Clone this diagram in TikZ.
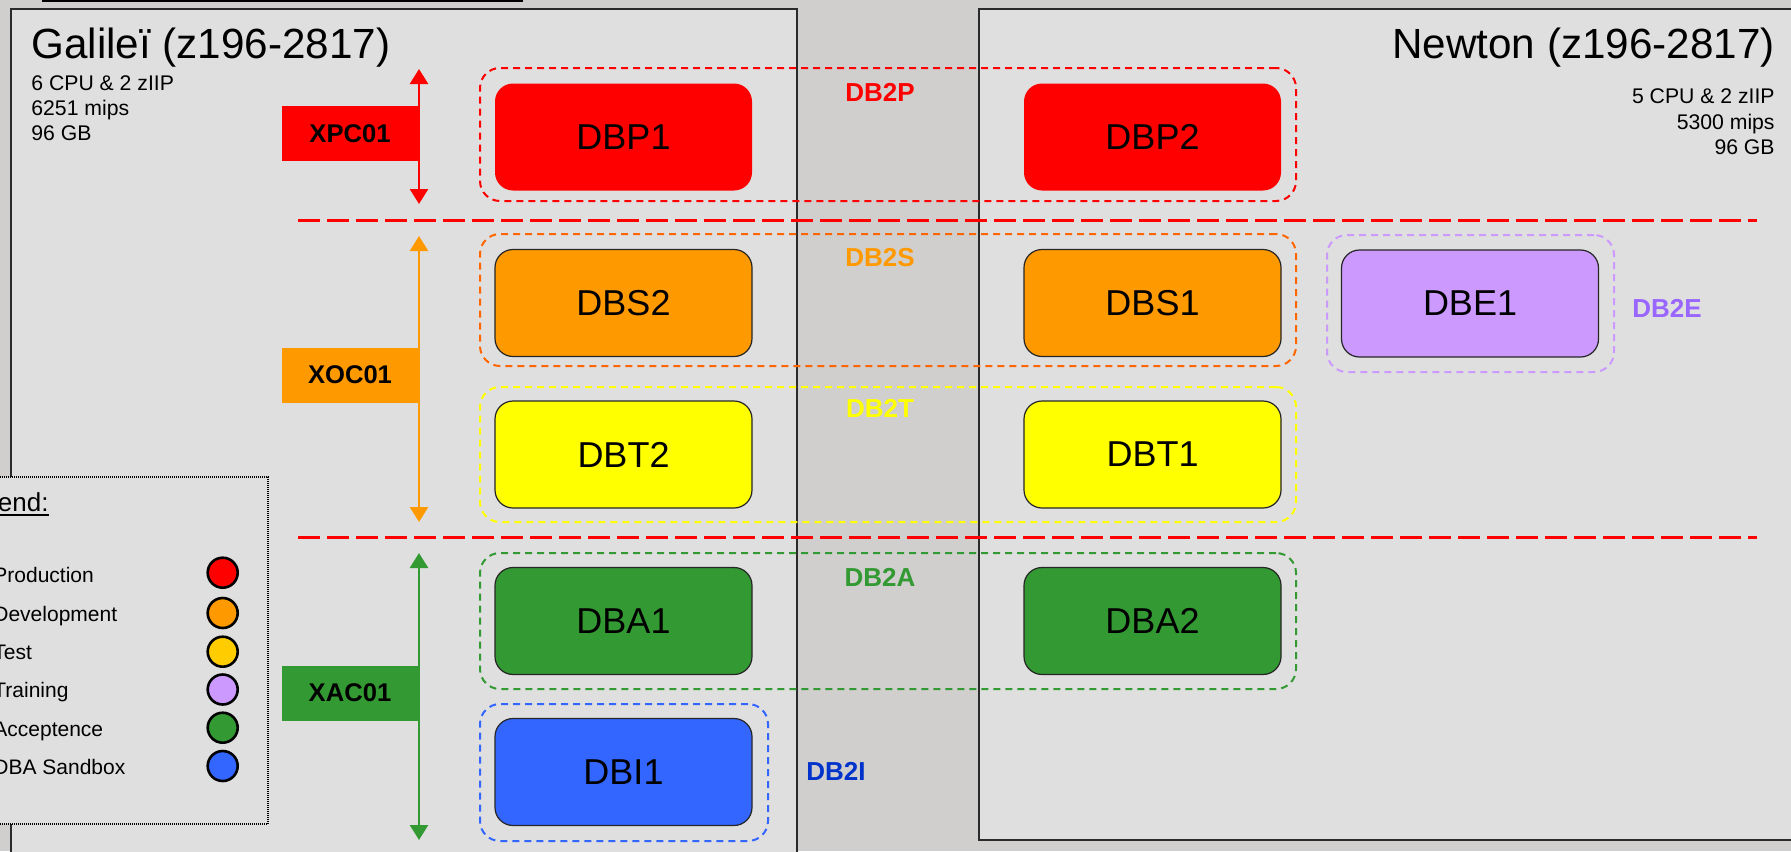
\documentclass[tikz,border=0pt]{standalone}
\usepackage{fontspec}
\setmainfont{Liberation Sans}
\usetikzlibrary{arrows.meta,fit}
\definecolor{bgout}{HTML}{D0CFCD}
\definecolor{panel}{HTML}{DFDFDF}
\definecolor{pborder}{HTML}{2A2A2A}
\definecolor{cred}{HTML}{FF0000}
\definecolor{corange}{HTML}{FF9900}
\definecolor{cdorange}{HTML}{FF6600}
\definecolor{cyellow}{HTML}{FFFF00}
\definecolor{cgold}{HTML}{FFCC00}
\definecolor{cgreen}{HTML}{339933}
\definecolor{cblue}{HTML}{3366FF}
\definecolor{cdblue}{HTML}{0033CC}
\definecolor{clav}{HTML}{CC99FF}
\definecolor{cpurp}{HTML}{9966FF}
\begin{document}
\begin{tikzpicture}[x=0.5pt,y=-0.5pt,
  db/.style={rounded corners=9pt, minimum width=128.5pt, minimum height=53.5pt, inner sep=0pt, draw=black!85, line width=0.6pt, font=\fontsize{18}{20}\selectfont},
  grp/.style={rounded corners=10pt, dash pattern=on 3.5pt off 2.5pt, line width=1pt, inner sep=0pt},
  grplabel/.style={font=\fontsize{13}{15}\selectfont\bfseries, inner sep=0pt},
  envbox/.style={minimum width=68pt, minimum height=27.5pt, inner sep=0pt, font=\fontsize{12.8}{15}\selectfont\bfseries},
  envarrow/.style={arrows={Triangle[width=9pt,length=7.5pt]-Triangle[width=9pt,length=7.5pt]}, line width=1.3pt},
  sepline/.style={draw=cred, line width=1.5pt, dash pattern=on 11pt off 3.5pt},
  panelbox/.style={fill=panel, draw=pborder, line width=1pt},
  titletext/.style={font=\fontsize{21.1}{24}\selectfont, inner sep=0pt},
  infotext/.style={font=\fontsize{10.6}{12}\selectfont, inner sep=0pt},
  legtext/.style={font=\fontsize{10.5}{12}\selectfont, inner sep=0pt, anchor=base west},
  legdot/.style={circle, draw=black, line width=1.3pt, minimum size=15pt, inner sep=0pt}
]
\useasboundingbox (0,0) rectangle (1791,851);
\clip (0,0) rectangle (1791,851);
\fill[bgout] (0,0) rectangle (1791,851);
\draw[line width=2pt] (42,0) -- (523,0);
% panels
\draw[panelbox] (11,9) rectangle (797,880);
\draw[panelbox] (979,9) rectangle (1820,840);
% titles
\node[titletext, anchor=base west] (galT) at (31,58) {Galileï (z196-2817)};
\node[infotext, anchor=base west] (galI1) at (31,90) {6 CPU \& 2 zIIP};
\node[infotext, anchor=base west] (galI2) at (31,115) {6251 mips};
\node[infotext, anchor=base west] (galI3) at (31,140) {96 GB};
\node[titletext, anchor=base east] (newT) at (1775,58) {Newton (z196-2817)};
\node[infotext, anchor=base east] (newI1) at (1775,103) {5 CPU \& 2 zIIP};
\node[infotext, anchor=base east] (newI2) at (1775,129) {5300 mips};
\node[infotext, anchor=base east] (newI3) at (1775,154) {96 GB};
% groups
\node[grp, draw=cred, fit={(480,68)(1296,201)}] (gP) {};
\node[grp, draw=cdorange, fit={(480,234)(1296,366)}] (gS) {};
\node[grp, draw=cyellow, fit={(480,387)(1296,522)}] (gT) {};
\node[grp, draw=cgreen, fit={(480,553)(1296,689)}] (gA) {};
\node[grp, draw=cblue, fit={(480,704)(768,841)}] (gI) {};
\node[grp, draw=clav, fit={(1327,235)(1614,372)}] (gE) {};
% group labels
\node[grplabel, text=cred, anchor=base] (lP) at (880,101) {DB2P};
\node[grplabel, text=corange, anchor=base] (lS) at (880,266) {DB2S};
\node[grplabel, text=cyellow, anchor=base] (lT) at (880,417) {DB2T};
\node[grplabel, text=cgreen, anchor=base] (lA) at (880,586) {DB2A};
\node[grplabel, text=cdblue, anchor=base west] (lI) at (806,780) {DB2I};
\node[grplabel, text=cpurp, anchor=base west] (lE) at (1632,317) {DB2E};
% separators
\coordinate (s1a) at (298,220); \coordinate (s1b) at (1757,220);
\coordinate (s2a) at (298,537); \coordinate (s2b) at (1757,537);
\draw[sepline] (s1a) -- (s1b);
\draw[sepline] (s2a) -- (s2b);
% database boxes
\node[db, fill=cred, draw=none] (DBP1) at (623.5,137) {DBP1};
\node[db, fill=cred, draw=none] (DBP2) at (1152.5,137) {DBP2};
\node[db, fill=corange] (DBS2) at (623.5,303) {DBS2};
\node[db, fill=corange] (DBS1) at (1152.5,303) {DBS1};
\node[db, fill=clav] (DBE1) at (1470,303.5) {DBE1};
\node[db, fill=cyellow] (DBT2) at (623.5,454.5) {DBT2};
\node[db, fill=cyellow] (DBT1) at (1152.5,454.5) {DBT1};
\node[db, fill=cgreen] (DBA1) at (623.5,621) {DBA1};
\node[db, fill=cgreen] (DBA2) at (1152.5,621) {DBA2};
\node[db, fill=cblue] (DBI1) at (623.5,772) {DBI1};
% environment boxes and arrows
\node[envbox, fill=cred] (XPC) at (350,133.5) {XPC01};
\node[envbox, fill=corange] (XOC) at (350,375) {XOC01};
\node[envbox, fill=cgreen] (XAC) at (350,693) {XAC01};
\coordinate (pTop) at (419,69); \coordinate (pBot) at (419,204);
\coordinate (oTop) at (419,236); \coordinate (oBot) at (419,522);
\coordinate (aTop) at (419,553); \coordinate (aBot) at (419,840);
\draw[envarrow, cred] (pTop) -- (pBot);
\draw[envarrow, corange] (oTop) -- (oBot);
\draw[envarrow, cgreen] (aTop) -- (aBot);
% legend
\node[draw=black, dash pattern=on 0.5pt off 0.5pt, line width=0.6pt, fill=panel, inner sep=0pt, fit={(-10,477)(268,824)}] (legend) {};
\node[font=\fontsize{13}{15}\selectfont, inner sep=0pt, anchor=base east] (legt) at (49,511) {Legend:};
\draw[line width=0.8pt] ([yshift=-2pt]legt.base west) -- ([yshift=-2pt]legt.base east);
\node[legtext] (t1) at (-7,582.7) {Production};
\node[legtext] (t2) at (-7,621) {Development};
\node[legtext] (t3) at (-7,659) {Test};
\node[legtext] (t4) at (-7,697) {Training};
\node[legtext] (t5) at (-7,736) {Acceptence};
\node[legtext] (t6) at (-7,774) {DBA Sandbox};
\node[legdot, fill=cred] (c1) at (222.7,572.7) {};
\node[legdot, fill=corange] (c2) at (222.7,613) {};
\node[legdot, fill=cgold] (c3) at (222.7,651.7) {};
\node[legdot, fill=clav] (c4) at (222.7,689.5) {};
\node[legdot, fill=cgreen] (c5) at (222.7,727.7) {};
\node[legdot, fill=cblue] (c6) at (222.7,766) {};
\end{tikzpicture}
\end{document}
